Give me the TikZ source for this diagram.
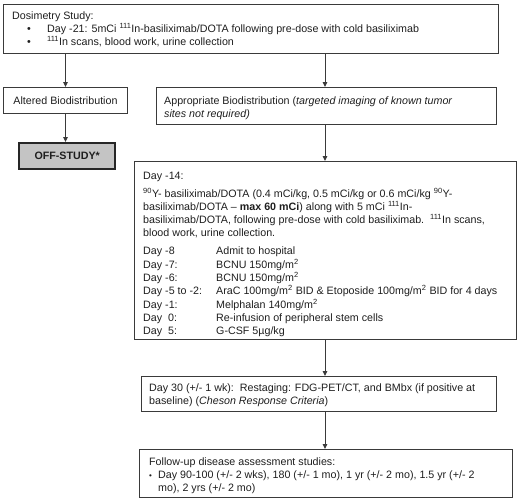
\documentclass[tikz,border=0pt]{standalone}
\usepackage{fontspec}
\setmainfont{Liberation Sans}
\usetikzlibrary{arrows.meta}
\definecolor{edge}{HTML}{3A3A3A}
\definecolor{ink}{HTML}{1E1E1E}
\definecolor{offfill}{HTML}{C4C4C4}
\newcommand{\spr}[1]{\textsuperscript{#1}}
\newcommand{\txtblock}[2]{\parbox[t]{#1}{\raggedright #2}}
\newcommand{\dayrow}[2]{\makebox[73pt][l]{#1}#2}
\begin{document}
\begin{tikzpicture}[x=1pt,y=-1pt,
  box/.style={draw=edge,line width=1pt,rectangle,inner sep=0pt,anchor=north west,text=ink,font=\fontsize{10.7}{13.3}\selectfont},
  offbox/.style={box,draw=black!85,line width=2.4pt,fill=offfill,font=\fontsize{10.7}{13.3}\selectfont\bfseries},
  txt/.style={anchor=base west,inner sep=0pt,text=ink,font=\fontsize{10.7}{13.3}\selectfont},
  arr/.style={draw=edge,line width=1pt,-{Triangle[length=5pt,width=4.5pt]}}]
\useasboundingbox (0,0) rectangle (520,501);
% boxes
\node[box,minimum width=495pt,minimum height=49pt] (dos) at (3,4) {};
\node[box,minimum width=124pt,minimum height=26pt] (alt) at (3,87) {Altered Biodistribution};
\node[box,minimum width=340pt,minimum height=37pt] (app) at (156,87) {};
\node[offbox,minimum width=96pt,minimum height=26pt] (off) at (18,142) {OFF-STUDY*};
\node[box,line width=1.2pt,minimum width=382pt,minimum height=178pt] (main) at (134,161) {};
\node[box,minimum width=355pt,minimum height=35pt] (d30) at (141,376) {};
\node[box,minimum width=373pt,minimum height=48pt] (fu) at (139,449) {};
% texts
\node[txt] (dosT) at (12,19) {\txtblock{480pt}{Dosimetry Study:\\
\hspace*{15pt}\makebox[20pt][l]{•}Day -21: 5mCi \spr{111}In-basiliximab/DOTA following pre-dose with cold basiliximab\\
\hspace*{15pt}\makebox[20pt][l]{•}\spr{111}In scans, blood work, urine collection}};
\node[txt] (appT) at (164,104) {\txtblock{330pt}{Appropriate Biodistribution (\textit{targeted imaging of known tumor}\\
\textit{sites not required)}}};
\node[txt] (mainT) at (143,179) {\txtblock{372pt}{Day -14:\\[4.7pt]
\spr{90}Y- basiliximab/DOTA (0.4 mCi/kg, 0.5 mCi/kg or 0.6 mCi/kg \spr{90}Y-\\
basiliximab/DOTA – \textbf{max 60 mCi}) along with 5 mCi \spr{111}In-\\
basiliximab/DOTA, following pre-dose with cold basiliximab.\ \ \spr{111}In scans,\\
blood work, urine collection.\\[4.7pt]
\dayrow{Day -8}{Admit to hospital}\\
\dayrow{Day -7:}{BCNU 150mg/m\spr{2}}\\
\dayrow{Day -6:}{BCNU 150mg/m\spr{2}}\\
\dayrow{Day -5 to -2:}{AraC 100mg/m\spr{2} BID \& Etoposide 100mg/m\spr{2} BID for 4 days}\\
\dayrow{Day -1:}{Melphalan 140mg/m\spr{2}}\\
\dayrow{Day\ \ 0:}{Re-infusion of peripheral stem cells}\\
\dayrow{Day\ \ 5:}{G-CSF 5µg/kg}}};
\node[txt] (d30T) at (149,391) {\txtblock{345pt}{Day 30 (+/- 1 wk):\ \ Restaging: FDG-PET/CT, and BMbx (if positive at\\
baseline) (\textit{Cheson Response Criteria})}};
\node[txt] (fuT) at (149,465) {\txtblock{362pt}{Follow-up disease assessment studies:\\
\makebox[9pt][l]{\footnotesize•}Day 90-100 (+/- 2 wks), 180 (+/- 1 mo), 1 yr (+/- 2 mo), 1.5 yr (+/- 2\\
\hspace*{9pt}mo), 2 yrs (+/- 2 mo)}};
% connectors
\coordinate (spine) at (325,0);
\draw[arr] (alt.north |- dos.south) -- (alt.north);
\draw[arr] (spine |- dos.south) -- (spine |- app.north);
\draw[arr] (alt.south) -- (alt.south |- off.north);
\draw[arr] (spine |- app.south) -- (spine |- main.north);
\draw[arr] (spine |- main.south) -- (spine |- d30.north);
\draw[arr] (spine |- d30.south) -- (spine |- fu.north);
\end{tikzpicture}
\end{document}
